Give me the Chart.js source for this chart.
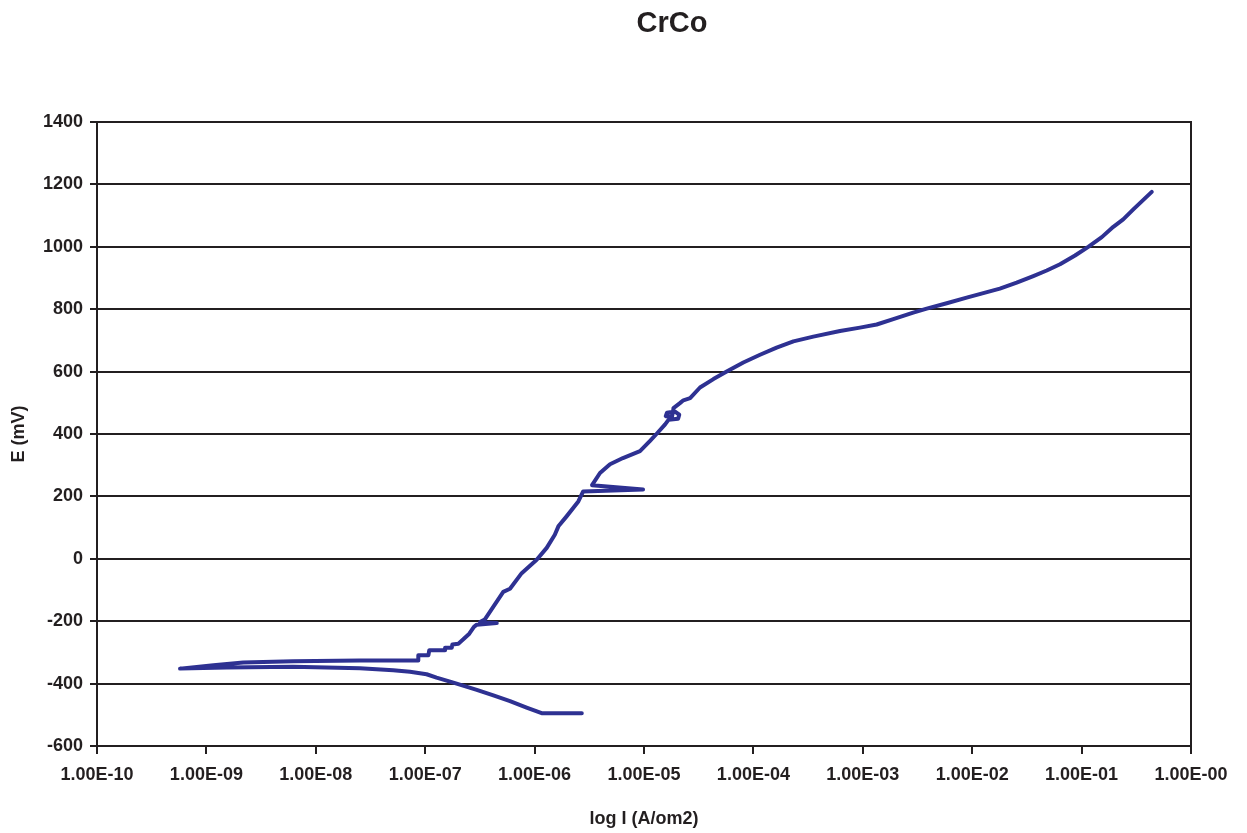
<!DOCTYPE html>
<html><head><meta charset="utf-8">
<script src="https://cdn.jsdelivr.net/npm/chart.js@4.4.0/dist/chart.umd.min.js"></script>
<style>html,body{margin:0;padding:0;background:#fff}</style>
</head><body>
<canvas id="c" width="1247" height="833"></canvas>
<script>
const chartTitle = 'CrCo';
const xAxisTitle = 'log I (A/om2)';
const yAxisTitle = 'E (mV)';
const xTickValues = [1e-10, 1e-9, 1e-8, 1e-7, 1e-6, 1e-5, 1e-4, 1e-3, 1e-2, 1e-1, 1];
const xTickLabels = ['1.00E-10','1.00E-09','1.00E-08','1.00E-07','1.00E-06','1.00E-05','1.00E-04','1.00E-03','1.00E-02','1.00E-01','1.00E-00'];
const yMin = -600, yMax = 1400, yStep = 200;

// current density (A/cm2), in scan order
const currentDensity = [
  2.70e-6, 1.16e-6, 8.45e-7, 5.96e-7, 4.2e-7, 2.96e-7, 1.81e-7, 1.27e-7, 1.03e-7, 7.26e-8, 5.1e-8, 2.53e-8, 6.2e-9, 1.53e-9, 5.74e-10,
  1.16e-9, 2.17e-9, 6.2e-9, 2.53e-8, 8.65e-8, 8.65e-8, 1.07e-7, 1.09e-7, 1.52e-7, 1.52e-7, 1.75e-7, 1.77e-7, 2.01e-7, 2.23e-7, 2.53e-7, 2.79e-7, 2.96e-7,
  4.51e-7, 3.17e-7, 3.5e-7, 5.17e-7, 5.96e-7, 7.62e-7, 1.045e-6, 1.29e-6, 1.53e-6, 1.65e-6, 1.96e-6, 2.51e-6, 2.78e-6,
  9.8e-6, 3.35e-6, 3.96e-6, 4.89e-6, 6.42e-6, 9.19e-6, 1.13e-5, 1.30e-5, 1.56e-5,
  1.68e-5, 2.05e-5, 2.1e-5, 1.92e-5, 1.62e-5, 1.58e-5, 1.8e-5, 1.84e-5, 1.86e-5,
  2.13e-5, 2.29e-5, 2.64e-5, 3.25e-5, 4.31e-5, 5.7e-5, 8.09e-5, 1.15e-4, 1.63e-4, 2.32e-4, 3.53e-4, 6.19e-4, 9.42e-4, 1.34e-3, 1.90e-3, 2.89e-3, 3.84e-3,
  5.85e-3, 8.9e-3, 1.79e-2, 2.55e-2, 3.62e-2, 4.8e-2, 6.35e-2, 8.71e-2, 0.115, 0.153, 0.195, 0.240, 0.297, 0.438
];
// potential (mV)
const potential = [
  -495, -495, -477, -456, -438, -420, -397, -381, -370, -362, -357, -351, -346, -348, -352,
  -341, -332, -328, -326, -326, -309, -309, -293, -293, -285, -285, -275, -272, -258, -240, -218, -211,
  -206, -203, -195, -106, -96, -46, -3, 35, 77, 104, 136, 184, 216,
  222, 236, 275, 303, 323, 345, 377, 400, 431,
  446, 449, 462, 472, 468, 457, 455, 470, 483,
  499, 508, 515, 549, 576, 600, 629, 654, 677, 697, 712, 730, 741, 751, 768, 789, 802,
  819, 837, 866, 885, 906, 924, 944, 972, 1000, 1031, 1064, 1088, 1120, 1176
];

const points = currentDensity.map((x, i) => ({x: x, y: potential[i]}));

const FONT = "'Liberation Sans', Arial, Helvetica, sans-serif";
const ink = '#231f20';
const lineColor = '#2e3192';

const framePlugin = {
  id: 'frame',
  afterDraw(chart) {
    const {ctx, chartArea} = chart;
    ctx.save();
    ctx.strokeStyle = ink;
    ctx.lineWidth = 2;
    ctx.beginPath();
    ctx.moveTo(chartArea.right, chartArea.top - 1);
    ctx.lineTo(chartArea.right, chartArea.bottom + 1);
    ctx.stroke();
    ctx.fillStyle = ink;
    ctx.font = "bold 29px " + FONT;
    ctx.textAlign = 'center';
    ctx.textBaseline = 'alphabetic';
    ctx.fillText(chartTitle, 672, 32);
    ctx.restore();
  }
};

Chart.defaults.font.family = FONT;

new Chart(document.getElementById('c'), {
  type: 'scatter',
  data: {
    datasets: [{
      data: points,
      showLine: true,
      borderColor: lineColor,
      backgroundColor: lineColor,
      borderWidth: 4,
      pointRadius: 0,
      pointHoverRadius: 0,
      tension: 0,
      fill: false,
      borderJoinStyle: 'round',
      borderCapStyle: 'round'
    }]
  },
  options: {
    responsive: false,
    animation: false,
    events: [],
    layout: { padding: { left: 0, right: 56, top: 122, bottom: 0 } },
    plugins: { legend: { display: false }, title: { display: false }, tooltip: { enabled: false } },
    scales: {
      x: {
        type: 'logarithmic',
        min: xTickValues[0],
        max: xTickValues[xTickValues.length - 1],
        afterBuildTicks: ax => { ax.ticks = xTickValues.map(v => ({ value: v })); },
        afterFit: s => { s.height = 87; },
        grid: { drawOnChartArea: false, drawTicks: true, tickLength: 8, color: ink, lineWidth: 2 },
        border: { display: true, color: ink, width: 2 },
        ticks: {
          callback: (v, i) => xTickLabels[i],
          font: { size: 18, weight: 'bold' }, color: ink, padding: 10,
          maxRotation: 0, minRotation: 0, autoSkip: false
        },
        title: { display: true, text: xAxisTitle, font: { size: 18, weight: 'bold' }, color: ink, padding: { top: 0, bottom: 3 } }
      },
      y: {
        min: yMin, max: yMax,
        afterFit: s => { s.width = 97; },
        grid: { color: ink, lineWidth: 2, tickLength: 7, drawTicks: true },
        border: { display: true, color: ink, width: 2 },
        ticks: { stepSize: yStep, callback: v => String(v), font: { size: 18, weight: 'bold' }, color: ink, padding: 7 },
        title: { display: true, text: yAxisTitle, font: { size: 18, weight: 'bold' }, color: ink, padding: { top: 8 } }
      }
    }
  },
  plugins: [framePlugin]
});
</script>
</body></html>
